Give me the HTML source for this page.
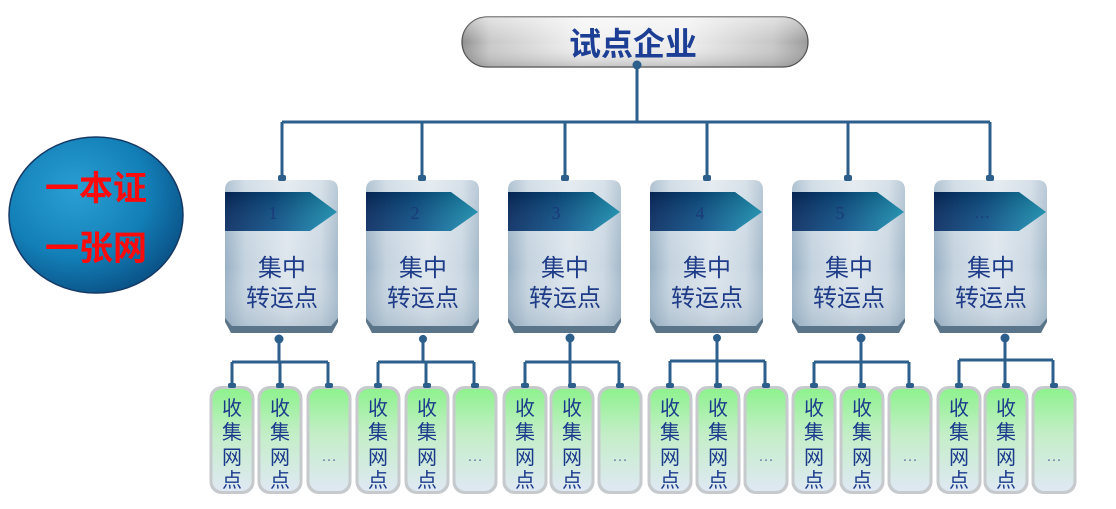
<!DOCTYPE html>
<html>
<head>
<meta charset="utf-8">
<style>
  html,body{margin:0;padding:0;background:#ffffff;}
  svg{display:block;}
  .cjk{font-family:"Liberation Sans","Noto Sans CJK SC","WenQuanYi Zen Hei",sans-serif;}
</style>
</head>
<body>
<svg width="1116" height="509" viewBox="0 0 1116 509" xmlns="http://www.w3.org/2000/svg">
  <defs>
    <linearGradient id="pillH" x1="0" y1="0" x2="1" y2="0">
      <stop offset="0" stop-color="#8e8e8e"/>
      <stop offset="0.08" stop-color="#c8c8c8"/>
      <stop offset="0.35" stop-color="#f2f2f2"/>
      <stop offset="0.65" stop-color="#eeeeee"/>
      <stop offset="0.9" stop-color="#c6c6c6"/>
      <stop offset="1" stop-color="#9a9a9a"/>
    </linearGradient>
    <linearGradient id="pillV" x1="0" y1="0" x2="0" y2="1">
      <stop offset="0" stop-color="#ffffff" stop-opacity="0.5"/>
      <stop offset="0.5" stop-color="#ffffff" stop-opacity="0"/>
      <stop offset="1" stop-color="#707070" stop-opacity="0.35"/>
    </linearGradient>
    <radialGradient id="circ" cx="0.38" cy="0.35" r="0.75">
      <stop offset="0" stop-color="#2a9fd2"/>
      <stop offset="0.55" stop-color="#1380b8"/>
      <stop offset="1" stop-color="#08487c"/>
    </radialGradient>
    <linearGradient id="bodyH" x1="0" y1="0" x2="1" y2="0">
      <stop offset="0" stop-color="#98b0c4"/>
      <stop offset="0.18" stop-color="#c4d3df"/>
      <stop offset="0.55" stop-color="#dee6ed"/>
      <stop offset="0.85" stop-color="#cad7e2"/>
      <stop offset="1" stop-color="#a4b9ca"/>
    </linearGradient>
    <linearGradient id="bodyV" x1="0" y1="0" x2="0" y2="1">
      <stop offset="0" stop-color="#ffffff" stop-opacity="0.25"/>
      <stop offset="0.6" stop-color="#ffffff" stop-opacity="0"/>
      <stop offset="1" stop-color="#8aa2b6" stop-opacity="0.35"/>
    </linearGradient>
    <linearGradient id="band" x1="0" y1="0" x2="1" y2="0">
      <stop offset="0" stop-color="#062a60"/>
      <stop offset="0.45" stop-color="#0b4f86"/>
      <stop offset="1" stop-color="#1b93b4"/>
    </linearGradient>
    <linearGradient id="bandV" x1="0" y1="0" x2="0" y2="1">
      <stop offset="0" stop-color="#000000" stop-opacity="0.15"/>
      <stop offset="1" stop-color="#ffffff" stop-opacity="0.08"/>
    </linearGradient>
    <linearGradient id="coll" x1="0" y1="0" x2="0" y2="1">
      <stop offset="0" stop-color="#8ef28e"/>
      <stop offset="0.45" stop-color="#c4eec8"/>
      <stop offset="1" stop-color="#dfe8f3"/>
    </linearGradient>
    <g id="tbox">
      <path d="M0,316 L113,316 L113,322 L107,333 L6,333 L0,322 Z" fill="#5a7489"/>
      <path d="M10,180 L103,180 Q113,180 113,190 L113,318 L106,326 L7,326 L0,318 L0,190 Q0,180 10,180 Z" fill="url(#bodyH)"/>
      <path d="M10,180 L103,180 Q113,180 113,190 L113,318 L106,326 L7,326 L0,318 L0,190 Q0,180 10,180 Z" fill="url(#bodyV)"/>
      <polygon points="0,192 85,192 112,212 85,231 0,231" fill="url(#band)"/>
      <polygon points="0,192 85,192 112,212 85,231 0,231" fill="url(#bandV)"/>
      <text x="57" y="276" text-anchor="middle" class="cjk" font-size="24" fill="#1f3c88">集中</text>
      <text x="57" y="306" text-anchor="middle" class="cjk" font-size="24" fill="#1f3c88">转运点</text>
    </g>
  </defs>

  <!-- Top pill -->
  <rect x="462" y="17" width="346" height="50" rx="25" ry="25" fill="url(#pillH)" stroke="#4a4a4a" stroke-width="1.2"/>
  <rect x="462" y="17" width="346" height="50" rx="25" ry="25" fill="url(#pillV)"/>
  <text x="633" y="55" text-anchor="middle" class="cjk" font-size="32" font-weight="bold" fill="#1c3e94">试点企业</text>

  <!-- Top connectors -->
  <g stroke="#2c5f8c" stroke-width="3" fill="none">
    <line x1="637" y1="65" x2="637" y2="122"/>
    <line x1="282" y1="122" x2="990" y2="122"/>
    <line x1="282" y1="122" x2="282" y2="180"/>
    <line x1="422" y1="122" x2="422" y2="180"/>
    <line x1="565" y1="122" x2="565" y2="180"/>
    <line x1="707" y1="122" x2="707" y2="180"/>
    <line x1="848" y1="122" x2="848" y2="180"/>
    <line x1="990" y1="122" x2="990" y2="180"/>
  </g>
  <circle cx="637" cy="65" r="4.5" fill="#2c5f8c"/>

  <!-- Left circle -->
  <ellipse cx="96" cy="215" rx="87" ry="78" fill="url(#circ)" stroke="#163a66" stroke-width="1.5"/>
  <text x="96" y="200" text-anchor="middle" class="cjk" font-size="34" font-weight="bold" fill="#ff0a0a">一本证</text>
  <text x="96" y="260" text-anchor="middle" class="cjk" font-size="34" font-weight="bold" fill="#ff0a0a">一张网</text>

  <!-- Transfer boxes -->
  <g transform="translate(225,0)"><use href="#tbox"/><rect x="53" y="175" width="8" height="6" rx="2" fill="#2c5f8c"/><text x="48" y="219" text-anchor="middle" font-family="Liberation Serif,serif" font-size="18" fill="#1a3a78">1</text></g>
  <g transform="translate(366,0)"><use href="#tbox"/><rect x="52" y="175" width="8" height="6" rx="2" fill="#2c5f8c"/><text x="49" y="219" text-anchor="middle" font-family="Liberation Serif,serif" font-size="18" fill="#1a3a78">2</text></g>
  <g transform="translate(508,0)"><use href="#tbox"/><rect x="53" y="175" width="8" height="6" rx="2" fill="#2c5f8c"/><text x="48" y="219" text-anchor="middle" font-family="Liberation Serif,serif" font-size="18" fill="#1a3a78">3</text></g>
  <g transform="translate(650,0)"><use href="#tbox"/><rect x="53" y="175" width="8" height="6" rx="2" fill="#2c5f8c"/><text x="50" y="219" text-anchor="middle" font-family="Liberation Serif,serif" font-size="18" fill="#1a3a78">4</text></g>
  <g transform="translate(792,0)"><use href="#tbox"/><rect x="52" y="175" width="8" height="6" rx="2" fill="#2c5f8c"/><text x="48" y="219" text-anchor="middle" font-family="Liberation Serif,serif" font-size="18" fill="#1a3a78">5</text></g>
  <g transform="translate(934,0)"><use href="#tbox"/><rect x="52" y="175" width="8" height="6" rx="2" fill="#2c5f8c"/><text x="48" y="218" text-anchor="middle" font-family="Liberation Serif,serif" font-size="16" fill="#1a3a78">…</text></g>

  <!-- Lower connectors -->
  <g stroke="#2c5f8c" stroke-width="3" fill="none">
    <line x1="279" y1="335" x2="279" y2="362"/>
    <line x1="232" y1="362" x2="328" y2="362"/>
    <line x1="232" y1="362" x2="232" y2="386"/>
    <line x1="280" y1="362" x2="280" y2="386"/>
    <line x1="328" y1="362" x2="328" y2="386"/>

    <line x1="423" y1="335" x2="423" y2="362"/>
    <line x1="378" y1="362" x2="474" y2="362"/>
    <line x1="378" y1="362" x2="378" y2="386"/>
    <line x1="426" y1="362" x2="426" y2="386"/>
    <line x1="474" y1="362" x2="474" y2="386"/>

    <line x1="570" y1="335" x2="570" y2="362"/>
    <line x1="525" y1="362" x2="619" y2="362"/>
    <line x1="525" y1="362" x2="525" y2="386"/>
    <line x1="570" y1="362" x2="570" y2="386"/>
    <line x1="619" y1="362" x2="619" y2="386"/>

    <line x1="717" y1="335" x2="717" y2="361"/>
    <line x1="670" y1="361" x2="765" y2="361"/>
    <line x1="670" y1="361" x2="670" y2="386"/>
    <line x1="717" y1="361" x2="717" y2="386"/>
    <line x1="765" y1="361" x2="765" y2="386"/>

    <line x1="861" y1="335" x2="861" y2="362"/>
    <line x1="814" y1="362" x2="909" y2="362"/>
    <line x1="814" y1="362" x2="814" y2="386"/>
    <line x1="861" y1="362" x2="861" y2="386"/>
    <line x1="909" y1="362" x2="909" y2="386"/>

    <line x1="1005" y1="335" x2="1005" y2="360"/>
    <line x1="959" y1="360" x2="1053" y2="360"/>
    <line x1="959" y1="360" x2="959" y2="386"/>
    <line x1="1005" y1="360" x2="1005" y2="386"/>
    <line x1="1053" y1="360" x2="1053" y2="386"/>
  </g>
  <g fill="#2c5f8c">
    <circle cx="279" cy="339" r="4.5"/>
    <circle cx="423" cy="339" r="4"/>
    <circle cx="570" cy="338" r="4.5"/>
    <circle cx="717" cy="338" r="4"/>
    <circle cx="861" cy="338" r="4.5"/>
    <circle cx="1005" cy="338" r="4.5"/>
  </g>

  <!-- Collection boxes -->
  <g id="colls">
    <g transform="translate(232,0)"><rect x="-22.5" y="386" width="45" height="108" rx="12" fill="#c6cacd"/><rect x="-19.5" y="389" width="39" height="102" rx="10" fill="url(#coll)"/><rect x="-4" y="383" width="8" height="5" rx="2" fill="#2c5f8c"/><g class="cjk" font-size="20" fill="#1a3a8c" text-anchor="middle"><text x="0" y="415">收</text><text x="0" y="439">集</text><text x="0" y="464">网</text><text x="0" y="487">点</text></g></g>
    <g transform="translate(280,0)"><rect x="-22.5" y="386" width="45" height="108" rx="12" fill="#c6cacd"/><rect x="-19.5" y="389" width="39" height="102" rx="10" fill="url(#coll)"/><rect x="-4" y="383" width="8" height="5" rx="2" fill="#2c5f8c"/><g class="cjk" font-size="20" fill="#1a3a8c" text-anchor="middle"><text x="0" y="415">收</text><text x="0" y="439">集</text><text x="0" y="464">网</text><text x="0" y="487">点</text></g></g>
    <g transform="translate(329,0)"><rect x="-22.5" y="386" width="45" height="108" rx="12" fill="#c6cacd"/><rect x="-19.5" y="389" width="39" height="102" rx="10" fill="url(#coll)"/><rect x="-4" y="383" width="8" height="5" rx="2" fill="#2c5f8c"/><text x="0" y="461" text-anchor="middle" font-family="Liberation Sans,sans-serif" font-size="16" fill="#6a7aa6">…</text></g>

    <g transform="translate(378,0)"><rect x="-22.5" y="386" width="45" height="108" rx="12" fill="#c6cacd"/><rect x="-19.5" y="389" width="39" height="102" rx="10" fill="url(#coll)"/><rect x="-4" y="383" width="8" height="5" rx="2" fill="#2c5f8c"/><g class="cjk" font-size="20" fill="#1a3a8c" text-anchor="middle"><text x="0" y="415">收</text><text x="0" y="439">集</text><text x="0" y="464">网</text><text x="0" y="487">点</text></g></g>
    <g transform="translate(427,0)"><rect x="-22.5" y="386" width="45" height="108" rx="12" fill="#c6cacd"/><rect x="-19.5" y="389" width="39" height="102" rx="10" fill="url(#coll)"/><rect x="-4" y="383" width="8" height="5" rx="2" fill="#2c5f8c"/><g class="cjk" font-size="20" fill="#1a3a8c" text-anchor="middle"><text x="0" y="415">收</text><text x="0" y="439">集</text><text x="0" y="464">网</text><text x="0" y="487">点</text></g></g>
    <g transform="translate(475,0)"><rect x="-22.5" y="386" width="45" height="108" rx="12" fill="#c6cacd"/><rect x="-19.5" y="389" width="39" height="102" rx="10" fill="url(#coll)"/><rect x="-4" y="383" width="8" height="5" rx="2" fill="#2c5f8c"/><text x="0" y="461" text-anchor="middle" font-family="Liberation Sans,sans-serif" font-size="16" fill="#6a7aa6">…</text></g>

    <g transform="translate(525,0)"><rect x="-22.5" y="386" width="45" height="108" rx="12" fill="#c6cacd"/><rect x="-19.5" y="389" width="39" height="102" rx="10" fill="url(#coll)"/><rect x="-4" y="383" width="8" height="5" rx="2" fill="#2c5f8c"/><g class="cjk" font-size="20" fill="#1a3a8c" text-anchor="middle"><text x="0" y="415">收</text><text x="0" y="439">集</text><text x="0" y="464">网</text><text x="0" y="487">点</text></g></g>
    <g transform="translate(572,0)"><rect x="-22.5" y="386" width="45" height="108" rx="12" fill="#c6cacd"/><rect x="-19.5" y="389" width="39" height="102" rx="10" fill="url(#coll)"/><rect x="-4" y="383" width="8" height="5" rx="2" fill="#2c5f8c"/><g class="cjk" font-size="20" fill="#1a3a8c" text-anchor="middle"><text x="0" y="415">收</text><text x="0" y="439">集</text><text x="0" y="464">网</text><text x="0" y="487">点</text></g></g>
    <g transform="translate(620,0)"><rect x="-22.5" y="386" width="45" height="108" rx="12" fill="#c6cacd"/><rect x="-19.5" y="389" width="39" height="102" rx="10" fill="url(#coll)"/><rect x="-4" y="383" width="8" height="5" rx="2" fill="#2c5f8c"/><text x="0" y="461" text-anchor="middle" font-family="Liberation Sans,sans-serif" font-size="16" fill="#6a7aa6">…</text></g>

    <g transform="translate(670,0)"><rect x="-22.5" y="386" width="45" height="108" rx="12" fill="#c6cacd"/><rect x="-19.5" y="389" width="39" height="102" rx="10" fill="url(#coll)"/><rect x="-4" y="383" width="8" height="5" rx="2" fill="#2c5f8c"/><g class="cjk" font-size="20" fill="#1a3a8c" text-anchor="middle"><text x="0" y="415">收</text><text x="0" y="439">集</text><text x="0" y="464">网</text><text x="0" y="487">点</text></g></g>
    <g transform="translate(718,0)"><rect x="-22.5" y="386" width="45" height="108" rx="12" fill="#c6cacd"/><rect x="-19.5" y="389" width="39" height="102" rx="10" fill="url(#coll)"/><rect x="-4" y="383" width="8" height="5" rx="2" fill="#2c5f8c"/><g class="cjk" font-size="20" fill="#1a3a8c" text-anchor="middle"><text x="0" y="415">收</text><text x="0" y="439">集</text><text x="0" y="464">网</text><text x="0" y="487">点</text></g></g>
    <g transform="translate(766,0)"><rect x="-22.5" y="386" width="45" height="108" rx="12" fill="#c6cacd"/><rect x="-19.5" y="389" width="39" height="102" rx="10" fill="url(#coll)"/><rect x="-4" y="383" width="8" height="5" rx="2" fill="#2c5f8c"/><text x="0" y="461" text-anchor="middle" font-family="Liberation Sans,sans-serif" font-size="16" fill="#6a7aa6">…</text></g>

    <g transform="translate(814,0)"><rect x="-22.5" y="386" width="45" height="108" rx="12" fill="#c6cacd"/><rect x="-19.5" y="389" width="39" height="102" rx="10" fill="url(#coll)"/><rect x="-4" y="383" width="8" height="5" rx="2" fill="#2c5f8c"/><g class="cjk" font-size="20" fill="#1a3a8c" text-anchor="middle"><text x="0" y="415">收</text><text x="0" y="439">集</text><text x="0" y="464">网</text><text x="0" y="487">点</text></g></g>
    <g transform="translate(862,0)"><rect x="-22.5" y="386" width="45" height="108" rx="12" fill="#c6cacd"/><rect x="-19.5" y="389" width="39" height="102" rx="10" fill="url(#coll)"/><rect x="-4" y="383" width="8" height="5" rx="2" fill="#2c5f8c"/><g class="cjk" font-size="20" fill="#1a3a8c" text-anchor="middle"><text x="0" y="415">收</text><text x="0" y="439">集</text><text x="0" y="464">网</text><text x="0" y="487">点</text></g></g>
    <g transform="translate(910,0)"><rect x="-22.5" y="386" width="45" height="108" rx="12" fill="#c6cacd"/><rect x="-19.5" y="389" width="39" height="102" rx="10" fill="url(#coll)"/><rect x="-4" y="383" width="8" height="5" rx="2" fill="#2c5f8c"/><text x="0" y="461" text-anchor="middle" font-family="Liberation Sans,sans-serif" font-size="16" fill="#6a7aa6">…</text></g>

    <g transform="translate(959,0)"><rect x="-22.5" y="386" width="45" height="108" rx="12" fill="#c6cacd"/><rect x="-19.5" y="389" width="39" height="102" rx="10" fill="url(#coll)"/><rect x="-4" y="383" width="8" height="5" rx="2" fill="#2c5f8c"/><g class="cjk" font-size="20" fill="#1a3a8c" text-anchor="middle"><text x="0" y="415">收</text><text x="0" y="439">集</text><text x="0" y="464">网</text><text x="0" y="487">点</text></g></g>
    <g transform="translate(1006,0)"><rect x="-22.5" y="386" width="45" height="108" rx="12" fill="#c6cacd"/><rect x="-19.5" y="389" width="39" height="102" rx="10" fill="url(#coll)"/><rect x="-4" y="383" width="8" height="5" rx="2" fill="#2c5f8c"/><g class="cjk" font-size="20" fill="#1a3a8c" text-anchor="middle"><text x="0" y="415">收</text><text x="0" y="439">集</text><text x="0" y="464">网</text><text x="0" y="487">点</text></g></g>
    <g transform="translate(1054,0)"><rect x="-22.5" y="386" width="45" height="108" rx="12" fill="#c6cacd"/><rect x="-19.5" y="389" width="39" height="102" rx="10" fill="url(#coll)"/><rect x="-4" y="383" width="8" height="5" rx="2" fill="#2c5f8c"/><text x="0" y="461" text-anchor="middle" font-family="Liberation Sans,sans-serif" font-size="16" fill="#6a7aa6">…</text></g>
  </g>
</svg>
</body>
</html>
